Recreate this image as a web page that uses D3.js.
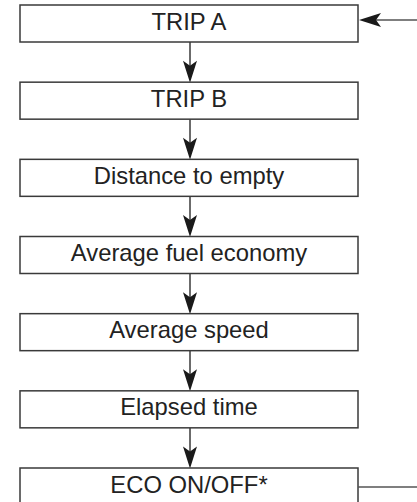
<!DOCTYPE html>
<html><head><meta charset="utf-8">
<script src="https://cdn.jsdelivr.net/npm/d3@7"></script>
<style>html,body{margin:0;padding:0;background:#fff;}svg{display:block;}</style>
</head><body>
<script>
const steps = ["TRIP A","TRIP B","Distance to empty","Average fuel economy","Average speed","Elapsed time","ECO ON/OFF*"];
const stepIndex = [0,1,2,3,4,5,6];

const W = 417, H = 502;
const svg = d3.select("body").append("svg").attr("width", W).attr("height", H);

const y = d3.scaleLinear().domain([0, 6]).range([5, 468]);
const x = d3.scaleLinear().domain([0, 1]).range([20, 358]);
const boxH = 37;
const stroke = "#3a3a3a";
const cx = 190;

function headDown(tx, ty) {
  return `M${tx},${ty} L${tx-7},${ty-22} L${tx},${ty-17} L${tx+7},${ty-22} Z`;
}
function headLeft(tx, ty) {
  return `M${tx},${ty} L${tx+22},${ty-7} L${tx+17},${ty} L${tx+22},${ty+7} Z`;
}

const links = d3.pairs(stepIndex);
svg.selectAll("line.link").data(links).enter().append("line")
  .attr("x1", cx).attr("x2", cx)
  .attr("y1", d => y(d[0]) + boxH)
  .attr("y2", d => y(d[1]) - 14)
  .attr("stroke", stroke).attr("stroke-width", 1.5);
svg.selectAll("path.head").data(links).enter().append("path")
  .attr("d", d => headDown(cx, y(d[1]) + 0.5))
  .attr("fill", "#1a1a1a");

const g = svg.selectAll("g.step").data(steps).enter().append("g");
g.append("rect")
  .attr("x", x(0)).attr("y", (d,i) => y(i))
  .attr("width", x(1) - x(0)).attr("height", boxH)
  .attr("fill", "#fff").attr("stroke", stroke).attr("stroke-width", 1.5);
g.append("text")
  .attr("x", (x(0)+x(1))/2).attr("y", (d,i) => y(i) + 24.5)
  .attr("text-anchor", "middle")
  .attr("font-family", "'Liberation Sans', Arial, Helvetica, sans-serif")
  .attr("font-size", 23.8).attr("fill", "#222")
  .text(d => d);

const yTop = y(0) + 15, yBot = y(6) + 19;
svg.append("line").attr("x1", x(1) + 17).attr("x2", W).attr("y1", yTop).attr("y2", yTop)
  .attr("stroke", "#555").attr("stroke-width", 1.5);
svg.append("path").attr("d", headLeft(x(1) + 1, yTop)).attr("fill", "#1a1a1a");
svg.append("line").attr("x1", x(1)).attr("x2", W).attr("y1", yBot).attr("y2", yBot)
  .attr("stroke", "#555").attr("stroke-width", 1.5);
</script>
</body></html>
